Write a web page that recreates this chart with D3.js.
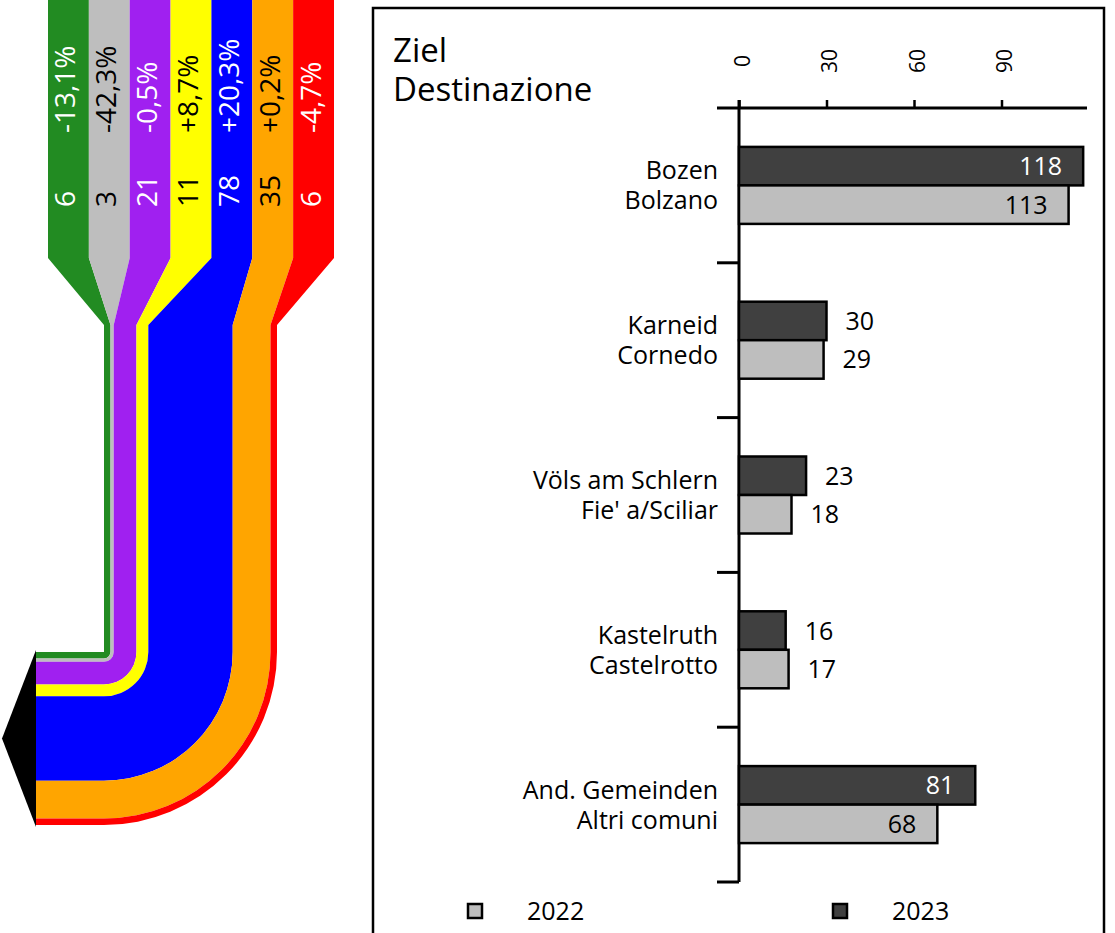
<!DOCTYPE html>
<html><head><meta charset="utf-8">
<script src="https://cdn.jsdelivr.net/npm/d3@7"></script>
<style>
body{margin:0;background:#fff}
svg{display:block}
text{font-family:"Open Sans",sans-serif}
</style>
</head><body>
<svg id="chart" width="1115" height="933"></svg>
<script>
// ---------- data ----------
const flowValues = [6, 3, 21, 11, 78, 35, 6];
const flowChanges = ["-13,1%", "-42,3%", "-0,5%", "+8,7%", "+20,3%", "+0,2%", "-4,7%"];
const flowColors = ["#228b22", "#bebebe", "#a020f0", "#ffff00", "#0000ff", "#ffa500", "#ff0000"];
const flowTextColors = ["#ffffff", "#000000", "#ffffff", "#000000", "#ffffff", "#000000", "#ffffff"];

const destDe = ["Bozen", "Karneid", "Völs am Schlern", "Kastelruth", "And. Gemeinden"];
const destIt = ["Bolzano", "Cornedo", "Fie' a/Sciliar", "Castelrotto", "Altri comuni"];
const values2022 = [113, 29, 18, 17, 68];
const values2023 = [118, 30, 23, 16, 81];
const seriesNames = ["2023", "2022"];
const legendNames = ["2022", "2023"];
const xTickValues = [0, 30, 60, 90];
const titleLines = ["Ziel", "Destinazione"];

const barColors = {"2022": "#bebebe", "2023": "#404040"};
const insideText = {"2022": "#000000", "2023": "#ffffff"};

const svg = d3.select("#chart");

// ---------- left: flow diagram ----------
const total = d3.sum(flowValues);
const topBand = d3.scaleBand().domain(d3.range(flowValues.length)).range([48, 334]);
const w = d3.scaleLinear().domain([0, total]).range([0, 173]);
const cum = [0, ...d3.cumsum(flowValues)];
const taperStart = 258, taperEnd = 325, cx = 104, cy = 652, endX = 36;

const flow = svg.append("g");
flowValues.forEach((v, i) => {
  const bx0 = topBand(i), bx1 = topBand(i) + topBand.bandwidth();
  const r0 = w(cum[i]), r1 = w(cum[i + 1]);
  const x0 = cx + r0, x1 = cx + r1;
  const p = d3.path();
  p.moveTo(bx0, -2);
  p.lineTo(bx1, -2);
  p.lineTo(bx1, taperStart);
  p.lineTo(x1, taperEnd);
  p.lineTo(x1, cy);
  p.arc(cx, cy, r1, 0, Math.PI / 2, false);
  p.lineTo(endX, cy + r1);
  p.lineTo(endX, cy + r0);
  p.lineTo(cx, cy + r0);
  if (r0 > 0) p.arc(cx, cy, r0, Math.PI / 2, 0, true);
  p.lineTo(x0, taperEnd);
  p.lineTo(bx0, taperStart);
  p.closePath();
  flow.append("path").attr("d", p.toString()).attr("fill", flowColors[i]);

  const tx = topBand(i) + topBand.bandwidth() / 2 + 7;
  flow.append("text")
    .attr("transform", `translate(${tx},207) rotate(-90)`)
    .attr("font-size", 28).attr("fill", flowTextColors[i])
    .text(String(v));
  flow.append("text")
    .attr("transform", `translate(${tx},133) rotate(-90)`)
    .attr("font-size", 28).attr("fill", flowTextColors[i])
    .text(flowChanges[i]);
});
// arrow head
const aTop = cy - 2, aBot = cy + w(total) + 2;
flow.append("path")
  .attr("d", `M${endX},${aTop} L${endX},${aBot} L2,${(aTop + aBot) / 2} Z`)
  .attr("fill", "#000");

// ---------- right: bar chart ----------
svg.append("rect").attr("x", 373).attr("y", 8).attr("width", 731).attr("height", 980)
  .attr("fill", "none").attr("stroke", "#000").attr("stroke-width", 2.5);

svg.append("text").attr("x", 393).attr("y", 62).attr("font-size", 33).text(titleLines[0]);
svg.append("text").attr("x", 393).attr("y", 101).attr("font-size", 33).text(titleLines[1]);

const x = d3.scaleLinear().domain([0, 120]).range([739, 1089]);
const y = d3.scaleBand().domain(destDe).range([108, 882]);
const inner = d3.scaleBand().domain(seriesNames).range([0, 77]);

// top axis
const xAxis = svg.append("g").attr("transform", `translate(0,${y.range()[0]})`)
  .call(d3.axisTop(x).tickValues(xTickValues).tickSize(8).tickFormat(d3.format("d")));
xAxis.select(".domain").remove();
xAxis.selectAll(".tick line").attr("stroke", "#000").attr("stroke-width", 2.5);
xAxis.selectAll(".tick text")
  .attr("font-family", "Open Sans, sans-serif").attr("font-size", 21).attr("fill", "#000")
  .attr("x", null).attr("y", null).attr("dy", null)
  .attr("text-anchor", "middle")
  .attr("transform", "translate(10,-47) rotate(-90)");
svg.append("line").attr("x1", x(0) - 22).attr("x2", x.range()[1] - 2)
  .attr("y1", y.range()[0]).attr("y2", y.range()[0])
  .attr("stroke", "#000").attr("stroke-width", 3);

// left axis (vertical line + ticks at band boundaries)
svg.append("line").attr("x1", x(0)).attr("x2", x(0))
  .attr("y1", y.range()[0] - 8).attr("y2", y.range()[1])
  .attr("stroke", "#000").attr("stroke-width", 3);
svg.append("g").selectAll("line").data(destDe).join("line")
  .attr("x1", x(0) - 22).attr("x2", x(0))
  .attr("y1", d => y(d) + y.bandwidth()).attr("y2", d => y(d) + y.bandwidth())
  .attr("stroke", "#000").attr("stroke-width", 3);

// category labels
const catG = svg.append("g").attr("font-size", 25).attr("text-anchor", "end");
destDe.forEach((d, i) => {
  const c = y(d) + y.bandwidth() / 2;
  catG.append("text").attr("x", x(0) - 21).attr("y", c - 6).text(d);
  catG.append("text").attr("x", x(0) - 21).attr("y", c + 24).text(destIt[i]);
});

// bars
const rows = [];
destDe.forEach((d, i) => {
  rows.push({cat: d, s: "2023", v: values2023[i]});
  rows.push({cat: d, s: "2022", v: values2022[i]});
});
const barG = svg.append("g");
rows.forEach(r => {
  const top = y(r.cat) + y.bandwidth() / 2 - inner.range()[1] / 2 + inner(r.s);
  barG.append("rect")
    .attr("x", x(0)).attr("y", top)
    .attr("width", x(r.v) - x(0)).attr("height", inner.bandwidth())
    .attr("fill", barColors[r.s]).attr("stroke", "#000").attr("stroke-width", 2.5);
  const inside = r.v > 50;
  barG.append("text")
    .attr("x", inside ? x(r.v) - 21 : x(r.v) + 19)
    .attr("y", top + inner.bandwidth() / 2 + 9)
    .attr("text-anchor", inside ? "end" : "start")
    .attr("font-size", 25)
    .attr("fill", inside ? insideText[r.s] : "#000")
    .text(r.v);
});

// legend
const legX = d3.scaleOrdinal().domain(legendNames).range([468, 833]);
legendNames.forEach(n => {
  svg.append("rect").attr("x", legX(n)).attr("y", 904).attr("width", 14).attr("height", 14)
    .attr("fill", barColors[n]).attr("stroke", "#000").attr("stroke-width", 2.5);
  svg.append("text").attr("x", legX(n) + 59).attr("y", 920).attr("font-size", 25).text(n);
});
</script>
</body></html>
